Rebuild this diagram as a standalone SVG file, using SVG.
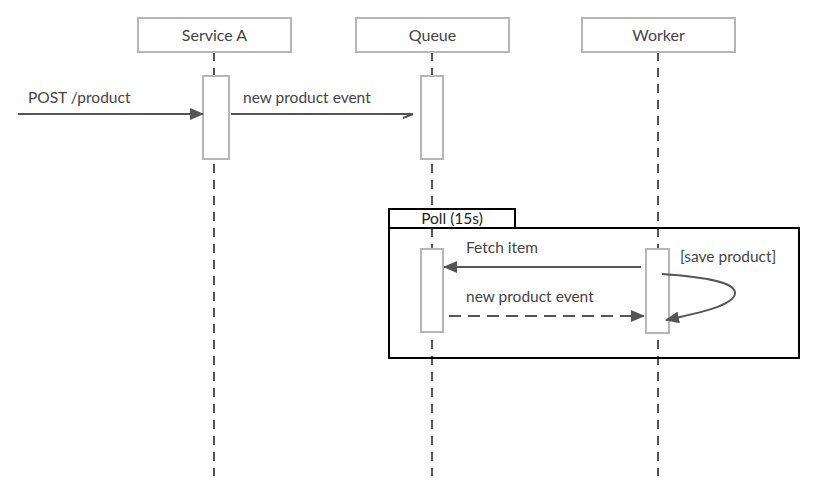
<svg xmlns="http://www.w3.org/2000/svg" width="819" height="493" viewBox="0 0 819 493">
<defs>
<style>
.t{font-family:Lato,"Open Sans","DejaVu Sans",sans-serif;font-size:15.5px;fill:#444}
.h{font-size:16px}
.pbox{fill:#fff;stroke:#b4b6b8;stroke-width:2}
.life{stroke:#555;stroke-width:2;stroke-dasharray:9 7}
.act{fill:#fff;stroke:#b4b6b8;stroke-width:2}
.msg{stroke:#555;stroke-width:2;fill:none}
</style>
<marker id="fill" markerWidth="14" markerHeight="12" refX="13" refY="6" orient="auto" markerUnits="userSpaceOnUse">
<path d="M0,0 L14,6 L0,12 z" fill="#555"/>
</marker>
<marker id="half" markerWidth="14" markerHeight="8" refX="13" refY="2" orient="auto" markerUnits="userSpaceOnUse">
<path d="M13,2 L3,6" stroke="#555" stroke-width="2" fill="none"/>
</marker>
</defs>
<rect width="819" height="493" fill="#fff"/>
<g id="lifelines">
<line class="life" x1="214" y1="52" x2="214" y2="476"/>
<line class="life" x1="432" y1="52" x2="432" y2="476"/>
<line class="life" x1="658" y1="52" x2="658" y2="476"/>
</g>
<g id="serviceA">
<rect class="pbox" x="138" y="18" width="153" height="34"/>
<text class="t h" x="214.5" y="40.5" text-anchor="middle">Service A</text>
</g>
<g id="queue">
<rect class="pbox" x="356" y="18" width="153" height="34"/>
<text class="t h" x="432.5" y="40.5" text-anchor="middle">Queue</text>
</g>
<g id="worker">
<rect class="pbox" x="582" y="18" width="153" height="34"/>
<text class="t h" x="658.5" y="40.5" text-anchor="middle">Worker</text>
</g>
<g id="loop">
<rect x="389" y="228" width="410" height="130" fill="none" stroke="#000" stroke-width="2"/>
<rect x="389" y="209" width="126" height="19" fill="#fff" stroke="#000" stroke-width="2"/>
<text class="t" x="452" y="224" text-anchor="middle" style="fill:#222">Poll (15s)</text>
</g>
<g id="activations">
<rect class="act" x="203" y="76" width="26" height="83"/>
<rect class="act" x="421" y="76" width="22" height="83"/>
<rect class="act" x="421" y="249" width="22" height="83"/>
<rect class="act" x="646" y="249" width="23" height="84"/>
</g>
<g id="connectors">
<line class="msg" x1="18" y1="114" x2="203" y2="114" marker-end="url(#fill)"/>
<line class="msg" x1="231" y1="114" x2="413" y2="114" marker-end="url(#half)"/>
<line class="msg" x1="641" y1="267" x2="444" y2="267" marker-end="url(#fill)"/>
<line class="msg" x1="449" y1="316" x2="644" y2="316" stroke-dasharray="12 7" marker-end="url(#fill)"/>
<path class="msg" d="M662,274 C720,278 735,285 735,293 C735,305 700,313 666,320" marker-end="url(#fill)"/>
</g>
<g id="labels">
<text class="t" x="28" y="103">POST /product</text>
<text class="t" x="243" y="103">new product event</text>
<text class="t" x="466" y="253">Fetch item</text>
<text class="t" x="466" y="302">new product event</text>
<text class="t" x="680" y="262">[save product]</text>
</g>
</svg>
